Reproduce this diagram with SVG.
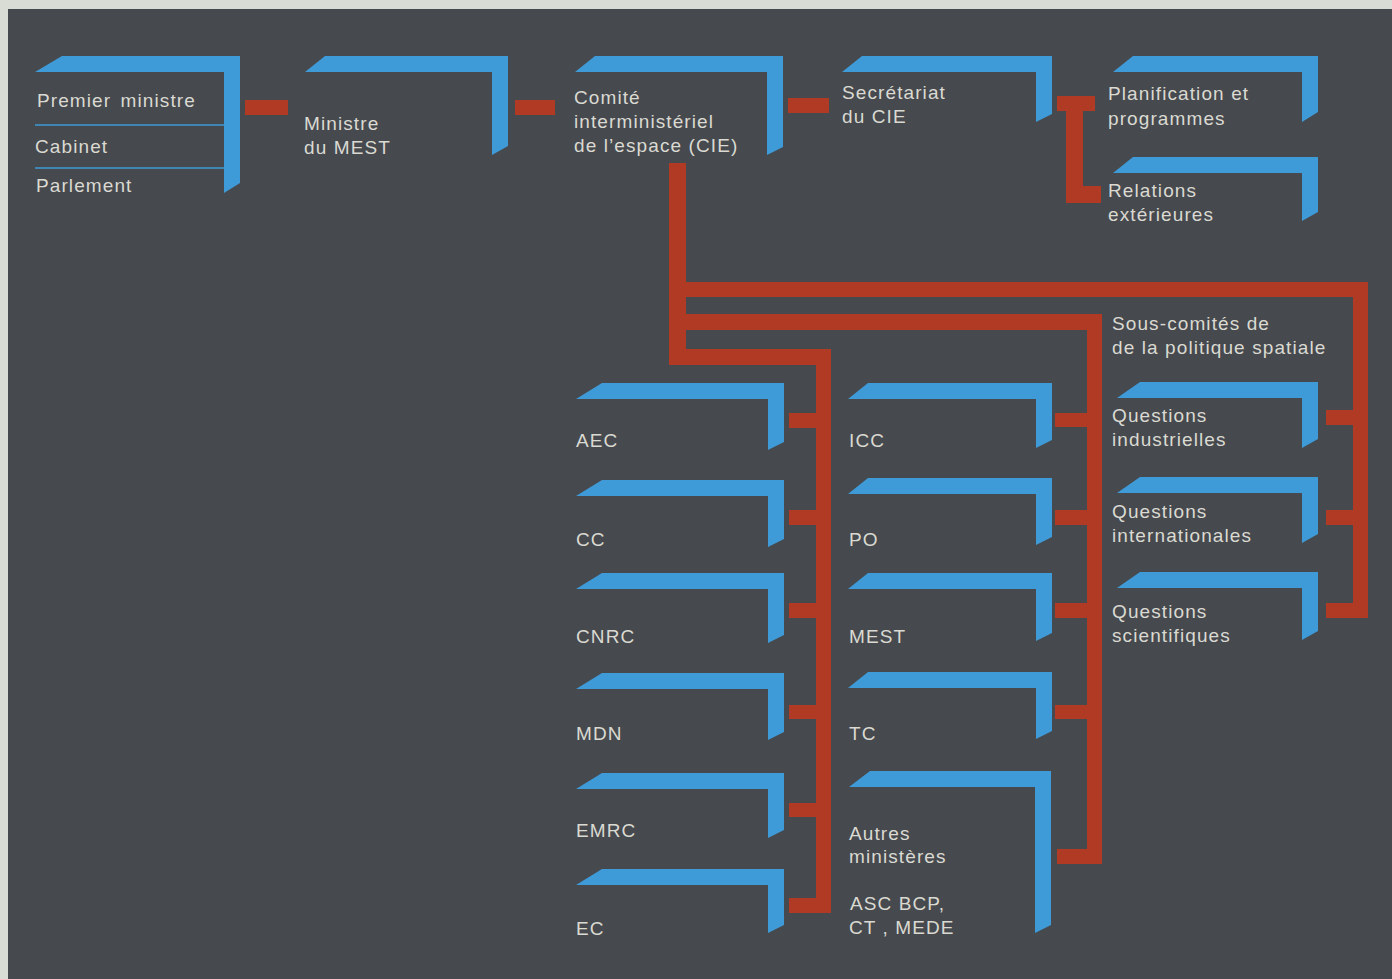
<svg xmlns="http://www.w3.org/2000/svg" width="1392" height="979" viewBox="0 0 1392 979">
<style>
.bg{fill:#d9dbd5}
.panel{fill:#46494e}
.br{fill:#3f9bd8}
.rd{fill:#b03a24}
.dv{stroke:#3f9bd8;stroke-width:1.6}
text{font-family:"Liberation Sans",Arial,Helvetica,sans-serif;font-size:19px;letter-spacing:1.1px;fill:#dadad2}
</style>
<rect class="bg" x="0" y="0" width="1392" height="979"/>
<rect class="panel" x="8" y="9" width="1384" height="970"/>

<g id="connectors">
  <rect class="rd" x="245" y="100" width="43" height="15"/>
  <rect class="rd" x="515" y="100" width="40" height="15"/>
  <rect class="rd" x="788" y="98" width="41" height="15"/>
  <path class="rd" d="M1057,96 H1095 V111 H1083 V186 H1101 V203 H1066 V111 H1057 Z"/>
  <!-- trunk from CIE -->
  <path class="rd" d="M669,163 H686 V282 H1368 V618 H1326 V603 H1353 V525 H1326 V510 H1353 V425 H1326 V410 H1353 V297 H686 V314 H1102 V864 H1057 V849 H1087 V719 H1055 V705 H1087 V618 H1055 V603 H1087 V525 H1055 V510 H1087 V427 H1055 V413 H1087 V330 H686 V349 H831 V913 H789 V898 H816 V817 H789 V803 H816 V719 H789 V705 H816 V618 H789 V603 H816 V525 H789 V510 H816 V428 H789 V413 H816 V365 H669 Z"/>
</g>

<g id="premier-ministre">
  <path class="br" d="M62,56 H240 V183 L224,193 V72 H35 Z"/>
  <line class="dv" x1="35" y1="125" x2="224" y2="125"/>
  <line class="dv" x1="35" y1="168" x2="224" y2="168"/>
  <text x="37" y="107" word-spacing="3">Premier ministre</text>
  <text x="35" y="153">Cabinet</text>
  <text x="36" y="192">Parlement</text>
</g>
<g id="ministre">
  <path class="br" d="M325,56 H508 V146 L492,155 V72 H305 Z"/>
  <text x="304" y="130">Ministre</text>
  <text x="304" y="154">du MEST</text>
</g>
<g id="cie">
  <path class="br" d="M595,56 H783 V147 L767,155 V72 H575 Z"/>
  <text x="574" y="104">Comité</text>
  <text x="574" y="128">interministériel</text>
  <text x="574" y="152">de l’espace (CIE)</text>
</g>
<g id="secretariat">
  <path class="br" d="M862,56 H1052 V114 L1036,122 V72 H842 Z"/>
  <text x="842" y="99">Secrétariat</text>
  <text x="842" y="123">du CIE</text>
</g>
<g id="planification">
  <path class="br" d="M1133,56 H1318 V112 L1302,122 V72 H1113 Z"/>
  <text x="1108" y="100">Planification et</text>
  <text x="1108" y="125">programmes</text>
</g>
<g id="relations">
  <path class="br" d="M1133,157 H1318 V212 L1302,221 V173 H1113 Z"/>
  <text x="1108" y="197">Relations</text>
  <text x="1108" y="221">extérieures</text>
</g>
<g id="sous-comites">
  <text x="1112" y="330">Sous-comités de</text>
  <text x="1112" y="354">de la politique spatiale</text>
</g>

<g id="aec">
  <path class="br" d="M602,383 H784 V442 L768,450 V399 H576 Z"/>
  <text x="576" y="447">AEC</text>
</g>
<g id="cc">
  <path class="br" d="M602,480 H784 V539 L768,547 V496 H576 Z"/>
  <text x="576" y="546">CC</text>
</g>
<g id="cnrc">
  <path class="br" d="M602,573 H784 V635 L768,643 V589 H576 Z"/>
  <text x="576" y="643">CNRC</text>
</g>
<g id="mdn">
  <path class="br" d="M602,673 H784 V732 L768,740 V689 H576 Z"/>
  <text x="576" y="740">MDN</text>
</g>
<g id="emrc">
  <path class="br" d="M602,773 H784 V830 L768,838 V789 H576 Z"/>
  <text x="576" y="837">EMRC</text>
</g>
<g id="ec">
  <path class="br" d="M602,869 H784 V925 L768,933 V885 H576 Z"/>
  <text x="576" y="935">EC</text>
</g>

<g id="icc">
  <path class="br" d="M868,383 H1052 V440 L1036,448 V399 H848 Z"/>
  <text x="849" y="447">ICC</text>
</g>
<g id="po">
  <path class="br" d="M868,478 H1052 V537 L1036,545 V494 H848 Z"/>
  <text x="849" y="546">PO</text>
</g>
<g id="mest">
  <path class="br" d="M868,573 H1052 V633 L1036,641 V589 H848 Z"/>
  <text x="849" y="643">MEST</text>
</g>
<g id="tc">
  <path class="br" d="M868,672 H1052 V731 L1036,739 V688 H848 Z"/>
  <text x="849" y="740">TC</text>
</g>
<g id="autres">
  <path class="br" d="M870,771 H1051 V925 L1035,933 V787 H849 Z"/>
  <text x="849" y="840">Autres</text>
  <text x="849" y="863">ministères</text>
  <text x="850" y="910">ASC BCP,</text>
  <text x="849" y="934">CT , MEDE</text>
</g>

<g id="questions-industrielles">
  <path class="br" d="M1140,382 H1318 V439 L1302,448 V398 H1117 Z"/>
  <text x="1112" y="422">Questions</text>
  <text x="1112" y="446">industrielles</text>
</g>
<g id="questions-internationales">
  <path class="br" d="M1140,477 H1318 V534 L1302,543 V493 H1117 Z"/>
  <text x="1112" y="518">Questions</text>
  <text x="1112" y="542">internationales</text>
</g>
<g id="questions-scientifiques">
  <path class="br" d="M1140,572 H1318 V631 L1302,640 V588 H1117 Z"/>
  <text x="1112" y="618">Questions</text>
  <text x="1112" y="642">scientifiques</text>
</g>
</svg>
